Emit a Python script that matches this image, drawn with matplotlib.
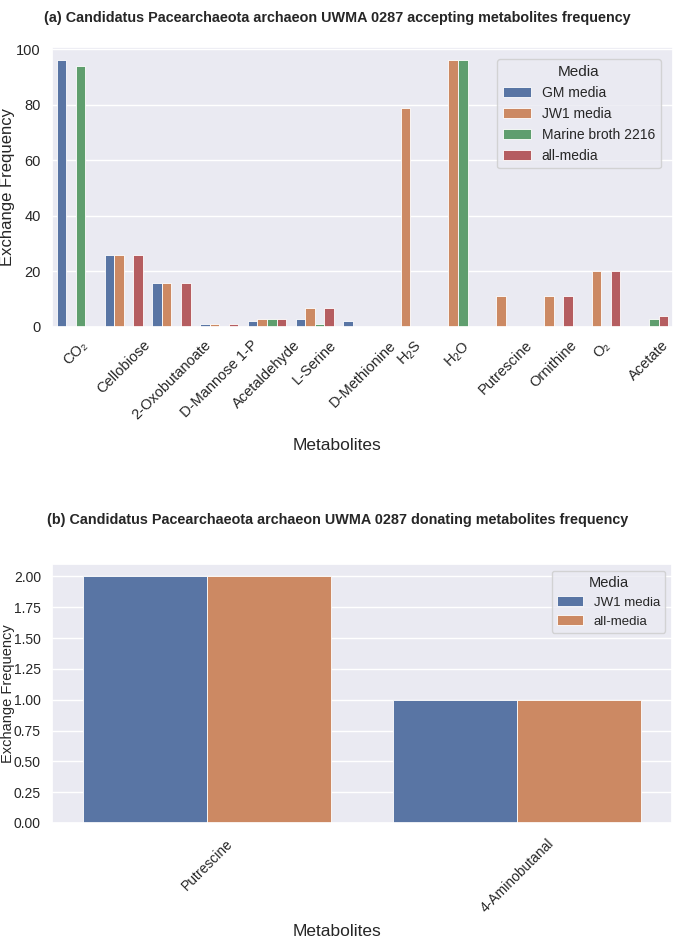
import matplotlib
matplotlib.use("Agg")
import matplotlib.pyplot as plt
import numpy as np
import seaborn as sns

# ---- data (a) ----
metabolites_a = ["CO\u2082", "Cellobiose", "2-Oxobutanoate", "D-Mannose 1-P", "Acetaldehyde",
                 "L-Serine", "D-Methionine", "H$_2$S", "H$_2$O", "Putrescine", "Ornithine",
                 "O\u2082", "Acetate"]
media_a = ["GM media", "JW1 media", "Marine broth 2216", "all-media"]
gm_media = [96, 26, 16, 1, 2, 3, 2, 0, 0, 0, 0, 0, 0]
jw1_media = [0, 26, 16, 1, 3, 7, 0, 79, 96, 11, 11, 20, 0]
marine_broth = [94, 0, 0, 0, 3, 1, 0, 0, 96, 0, 0, 0, 3]
all_media = [0, 26, 16, 1, 3, 7, 0, 0, 0, 0, 11, 20, 4]

# ---- data (b) ----
metabolites_b = ["Putrescine", "4-Aminobutanal"]
media_b = ["JW1 media", "all-media"]
jw1_b = [2, 1]
all_b = [2, 1]

sns.set_theme(style="darkgrid")
plt.rcParams["font.family"] = ["Liberation Sans", "DejaVu Sans"]
plt.rcParams["mathtext.fontset"] = "custom"
plt.rcParams["mathtext.rm"] = "Liberation Sans"
plt.rcParams["mathtext.it"] = "Liberation Sans:italic"

pal = sns.color_palette("deep", 4)
cols = [sns.desaturate(c, 0.75) for c in pal]

fig = plt.figure(figsize=(6.75, 9.43), dpi=100)
W, H = 675, 943

def axpos(l, t, r, b):
    return [l / W, 1 - b / H, (r - l) / W, (b - t) / H]

# ---- panel (a) ----
ax1 = fig.add_axes(axpos(52, 47, 673, 327))
series_a = [gm_media, jw1_media, marine_broth, all_media]
n = len(series_a)
bw = 0.8 / n
x = np.arange(len(metabolites_a))
for i, (vals, lab) in enumerate(zip(series_a, media_a)):
    ax1.bar(x - 0.4 + bw * (i + 0.5), vals, width=bw, color=cols[i], label=lab,
            edgecolor="white", linewidth=0.6)
ax1.set_xlim(-0.5, len(metabolites_a) - 0.5)
ax1.set_ylim(0, 100.8)
ax1.set_yticks([0, 20, 40, 60, 80, 100])
ax1.set_xticks(x)
ax1.set_xticklabels(metabolites_a, rotation=45, fontsize=10.5)
ax1.tick_params(axis="y", labelsize=10.5, pad=2)
ax1.tick_params(axis="x", pad=2)
ax1.grid(False, axis="x")
ax1.set_ylabel("Exchange Frequency", fontsize=12)
ax1.yaxis.set_label_coords((15 - 52) / 621, 0.5)
ax1.legend(title="Media", loc="upper right", fontsize=10, title_fontsize=11,
           handlelength=2.0, borderaxespad=0.9)
fig.text(0.5, 1 - 18 / H, "(a) Candidatus Pacearchaeota archaeon UWMA 0287 accepting metabolites frequency",
         ha="center", va="center", fontsize=10.4, fontweight="bold")
fig.text(337 / W, 1 - 445 / H, "Metabolites", ha="center", va="center", fontsize=12.5)

# ---- panel (b) ----
ax2 = fig.add_axes(axpos(52, 564, 672, 823))
series_b = [jw1_b, all_b]
nb = len(series_b)
bwb = 0.8 / nb
xb = np.arange(len(metabolites_b))
for i, (vals, lab) in enumerate(zip(series_b, media_b)):
    ax2.bar(xb - 0.4 + bwb * (i + 0.5), vals, width=bwb, color=cols[i], label=lab,
            edgecolor="white", linewidth=0.6)
ax2.set_xlim(-0.5, len(metabolites_b) - 0.5)
ax2.set_ylim(0, 2.1)
ax2.set_yticks(np.arange(0, 2.01, 0.25))
ax2.set_yticklabels([f"{v:.2f}" for v in np.arange(0, 2.01, 0.25)])
ax2.set_xticks(xb)
ax2.set_xticklabels(metabolites_b, rotation=45, fontsize=10)
ax2.tick_params(axis="y", labelsize=10, pad=2)
ax2.grid(False, axis="x")
ax2.set_ylabel("Exchange Frequency", fontsize=10.5)
ax2.yaxis.set_label_coords((15 - 52) / 620, 0.5)
ax2.legend(title="Media", loc="upper right", fontsize=9.5, title_fontsize=10.5,
           handlelength=2.0, borderaxespad=0.5)
fig.text(0.5, 1 - 520 / H, "(b) Candidatus Pacearchaeota archaeon UWMA 0287 donating metabolites frequency",
         ha="center", va="center", fontsize=10.4, fontweight="bold")
fig.text(337 / W, 1 - 932 / H, "Metabolites", ha="center", va="center", fontsize=12.5)

fig.savefig("out.png", dpi=100)
